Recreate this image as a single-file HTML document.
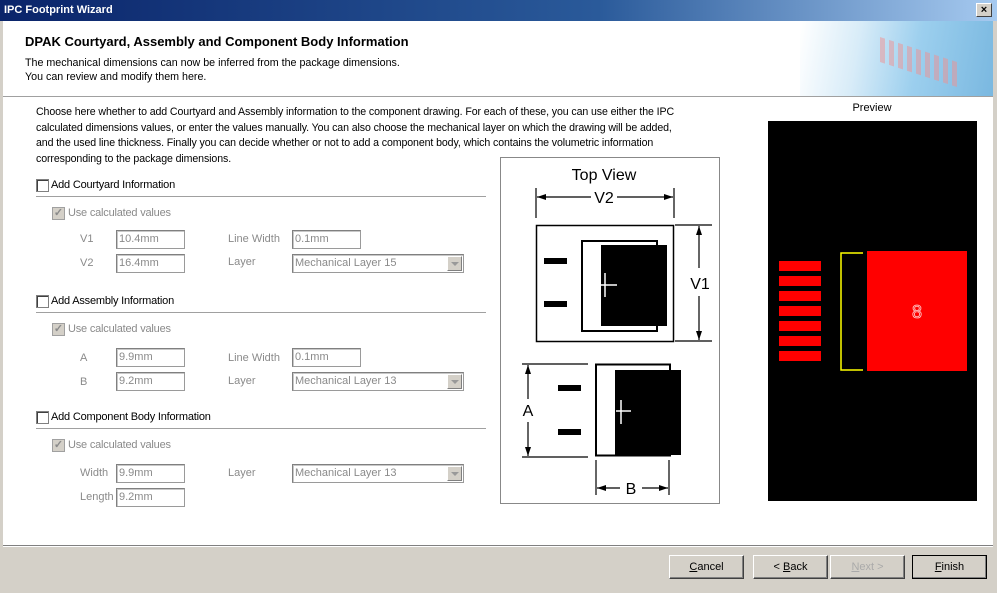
<!DOCTYPE html>
<html><head><meta charset="utf-8"><style>
*{margin:0;padding:0;box-sizing:border-box}
body{width:997px;height:593px;position:relative;overflow:hidden;background:#fff;font-family:"Liberation Sans",Arial,sans-serif;font-size:11px;color:#000}
.a{position:absolute;white-space:nowrap}
.g{color:#8a8a8a}
.in{position:absolute;height:19px;border:1px solid #9a9a9a;border-top-color:#808080;border-left-color:#808080;box-shadow:inset 1px 1px 0 #c8c8c8;background:#fff;color:#8a8a8a;padding:2px 0 0 2px;font-size:11px}
.cb{position:absolute;width:13px;height:13px;border:1px solid #808080;box-shadow:inset 1px 1px 0 #404040;background:#fff}
.cbg{position:absolute;width:13px;height:13px;border:1px solid #a0a0a0;background:#d4d0c8;color:#8a8a8a;font-size:11px;line-height:11px;text-align:center;font-weight:bold}
.sep{position:absolute;height:2px;border-top:1px solid #a0a0a0;border-bottom:1px solid #fff}
.dd{position:absolute;width:15px;height:15px;right:1px;top:1px;background:#d4d0c8;border:1px solid #fff;border-right-color:#808080;border-bottom-color:#808080}
.dd:after{content:"";position:absolute;left:3px;top:5px;border-left:4px solid transparent;border-right:4px solid transparent;border-top:4px solid #999}
.btn{position:absolute;top:555px;width:75px;height:24px;background:#d4d0c8;border:1px solid #fff;border-right-color:#404040;border-bottom-color:#404040;box-shadow:inset -1px -1px 0 #808080;text-align:center;line-height:22px;font-size:11px}
.lbl{font-size:11px;letter-spacing:-0.2px}
</style></head><body>
<div class="a" style="left:0;top:0;width:997px;height:21px;background:linear-gradient(90deg,#0a246a,#2a5a9a 60%,#a6caf0);"></div>
<div class="a" style="left:4px;top:4px;color:#fff;font-weight:bold;font-size:11px">IPC Footprint Wizard</div>
<div class="a" style="left:976px;top:3px;width:16px;height:14px;background:#d4d0c8;border:1px solid #fff;border-right-color:#404040;border-bottom-color:#404040;font-size:11px;font-weight:bold;text-align:center;line-height:12px">×</div>
<div class="a" style="left:0;top:21px;width:3px;height:572px;background:#d4d0c8"></div>
<div class="a" style="left:993px;top:21px;width:4px;height:572px;background:#d4d0c8"></div>
<div class="a" style="left:800px;top:21px;width:193px;height:75px;background:linear-gradient(100deg,#fff 0%,#d8ecf8 30%,#9ccfee 60%,#7ab8e0 100%)"></div>
<div class="a" style="left:880px;top:50px;width:80px;height:25px;background:repeating-linear-gradient(90deg,#f09090 0 5px,transparent 5px 9px);opacity:.5;transform:skewY(18deg)"></div>
<div class="a" style="left:25px;top:34px;font-weight:bold;font-size:13px">DPAK Courtyard, Assembly and Component Body Information</div>
<div class="a" style="left:25px;top:56px;line-height:14px;font-size:10.7px">The mechanical dimensions can now be inferred from the package dimensions.<br>You can review and modify them here.</div>
<div class="sep" style="left:3px;top:96px;width:990px"></div>
<div class="a" style="left:36px;top:105px;line-height:15.5px;font-size:10.6px;letter-spacing:-0.1px">Choose here whether to add Courtyard and Assembly information to the component drawing. For each of these, you can use either the IPC<br>calculated dimensions values, or enter the values manually. You can also choose the mechanical layer on which the drawing will be added,<br>and the used line thickness. Finally you can decide whether or not to add a component body, which contains the volumetric information<br>corresponding to the package dimensions.</div>

<div class="cb" style="left:36px;top:179px"></div><div class="a lbl" style="left:51px;top:179px">Add Courtyard Information</div>
<div class="sep" style="left:36px;top:196px;width:450px"></div>
<div class="cbg" style="left:52px;top:207px">✓</div><div class="a g lbl" style="left:68px;top:207px">Use calculated values</div>
<div class="a g" style="left:80px;top:233px">V1</div><div class="in" style="left:116px;top:230px;width:69px">10.4mm</div>
<div class="a g" style="left:228px;top:233px">Line Width</div><div class="in" style="left:292px;top:230px;width:69px">0.1mm</div>
<div class="a g" style="left:80px;top:257px">V2</div><div class="in" style="left:116px;top:254px;width:69px">16.4mm</div>
<div class="a g" style="left:228px;top:256px">Layer</div><div class="in" style="left:292px;top:254px;width:172px">Mechanical Layer 15<div class="dd"></div></div>

<div class="cb" style="left:36px;top:295px"></div><div class="a lbl" style="left:51px;top:295px">Add Assembly Information</div>
<div class="sep" style="left:36px;top:312px;width:450px"></div>
<div class="cbg" style="left:52px;top:323px">✓</div><div class="a g lbl" style="left:68px;top:323px">Use calculated values</div>
<div class="a g" style="left:80px;top:352px">A</div><div class="in" style="left:116px;top:348px;width:69px">9.9mm</div>
<div class="a g" style="left:228px;top:352px">Line Width</div><div class="in" style="left:292px;top:348px;width:69px">0.1mm</div>
<div class="a g" style="left:80px;top:376px">B</div><div class="in" style="left:116px;top:372px;width:69px">9.2mm</div>
<div class="a g" style="left:228px;top:375px">Layer</div><div class="in" style="left:292px;top:372px;width:172px">Mechanical Layer 13<div class="dd"></div></div>

<div class="cb" style="left:36px;top:411px"></div><div class="a lbl" style="left:51px;top:411px">Add Component Body Information</div>
<div class="sep" style="left:36px;top:428px;width:450px"></div>
<div class="cbg" style="left:52px;top:439px">✓</div><div class="a g lbl" style="left:68px;top:439px">Use calculated values</div>
<div class="a g" style="left:80px;top:467px">Width</div><div class="in" style="left:116px;top:464px;width:69px">9.9mm</div>
<div class="a g" style="left:228px;top:467px">Layer</div><div class="in" style="left:292px;top:464px;width:172px">Mechanical Layer 13<div class="dd"></div></div>
<div class="a g" style="left:80px;top:491px">Length</div><div class="in" style="left:116px;top:488px;width:69px">9.2mm</div>

<svg class="a" style="left:0;top:0" width="997" height="593">
<rect x="500.5" y="157.5" width="219" height="346" fill="#fff" stroke="#888"/>
<text x="604" y="180" font-family="Liberation Sans" font-size="16" text-anchor="middle">Top View</text>
<g stroke="#000" stroke-width="1.2" fill="none">
<line x1="536" y1="188" x2="536" y2="218"/><line x1="674" y1="188" x2="674" y2="218"/>
<line x1="537" y1="197" x2="591" y2="197"/><line x1="617" y1="197" x2="673" y2="197"/>
<rect x="536.5" y="225.5" width="137" height="116" stroke-width="1.5"/>
<rect x="582" y="241" width="75" height="90" stroke-width="2"/>
<line x1="675" y1="225" x2="712" y2="225"/><line x1="675" y1="341" x2="712" y2="341"/>
<line x1="699" y1="226" x2="699" y2="268"/><line x1="699" y1="296" x2="699" y2="340"/>
<rect x="596" y="364.5" width="74" height="91" stroke-width="2"/>
<line x1="522" y1="364" x2="588" y2="364"/><line x1="522" y1="457" x2="588" y2="457"/>
<line x1="528" y1="365" x2="528" y2="399"/><line x1="528" y1="422" x2="528" y2="456"/>
<line x1="596" y1="460" x2="596" y2="495"/><line x1="669" y1="460" x2="669" y2="495"/>
<line x1="597" y1="488" x2="620" y2="488"/><line x1="642" y1="488" x2="668" y2="488"/>
</g>
<g fill="#000">
<polygon points="537,197 546,194 546,200"/><polygon points="673,197 664,194 664,200"/>
<polygon points="699,226 696,235 702,235"/><polygon points="699,340 696,331 702,331"/>
<polygon points="528,365 525,374 531,374"/><polygon points="528,456 525,447 531,447"/>
<polygon points="597,488 606,485 606,491"/><polygon points="668,488 659,485 659,491"/>
<rect x="601" y="245" width="66" height="81"/>
<rect x="544" y="258" width="23" height="6"/><rect x="544" y="301" width="23" height="6"/>
<rect x="615" y="370" width="66" height="85"/>
<rect x="558" y="385" width="23" height="6"/><rect x="558" y="429" width="23" height="6"/>
</g>
<g stroke="#fff" stroke-width="1.5"><line x1="605" y1="273" x2="605" y2="297"/><line x1="600" y1="285" x2="617" y2="285"/>
<line x1="621" y1="400" x2="621" y2="424"/><line x1="616" y1="411" x2="631" y2="411"/></g>
<g font-family="Liberation Sans" font-size="16" text-anchor="middle">
<text x="604" y="203">V2</text><text x="700" y="289">V1</text><text x="528" y="416">A</text><text x="631" y="494">B</text></g>

<text x="872" y="111" font-family="Liberation Sans" font-size="11" text-anchor="middle">Preview</text>
<rect x="768" y="121" width="209" height="380" fill="#000"/>
<g fill="#f00">
<rect x="779" y="261" width="42" height="10"/><rect x="779" y="276" width="42" height="10"/><rect x="779" y="291" width="42" height="10"/><rect x="779" y="306" width="42" height="10"/><rect x="779" y="321" width="42" height="10"/><rect x="779" y="336" width="42" height="10"/><rect x="779" y="351" width="42" height="10"/>
<rect x="867" y="251" width="100" height="120"/></g>
<polyline points="863,253 841,253 841,370 863,370" fill="none" stroke="#ff0" stroke-width="1.5"/>
<text x="917" y="318" font-family="Liberation Sans" font-size="18" fill="none" stroke="#fcc" stroke-width="0.8" text-anchor="middle">8</text>
</svg>

<div class="a" style="left:3px;top:545px;width:990px;height:48px;background:#d4d0c8;border-top:1px solid #808080;box-shadow:inset 0 1px 0 #fff"></div>
<div class="btn" style="left:669px"><u>C</u>ancel</div>
<div class="btn" style="left:753px">&lt; <u>B</u>ack</div>
<div class="btn" style="left:830px;color:#aaa"><u>N</u>ext &gt;</div>
<div class="btn" style="left:912px;border:1px solid #000"><u>F</u>inish</div>
</body></html>
